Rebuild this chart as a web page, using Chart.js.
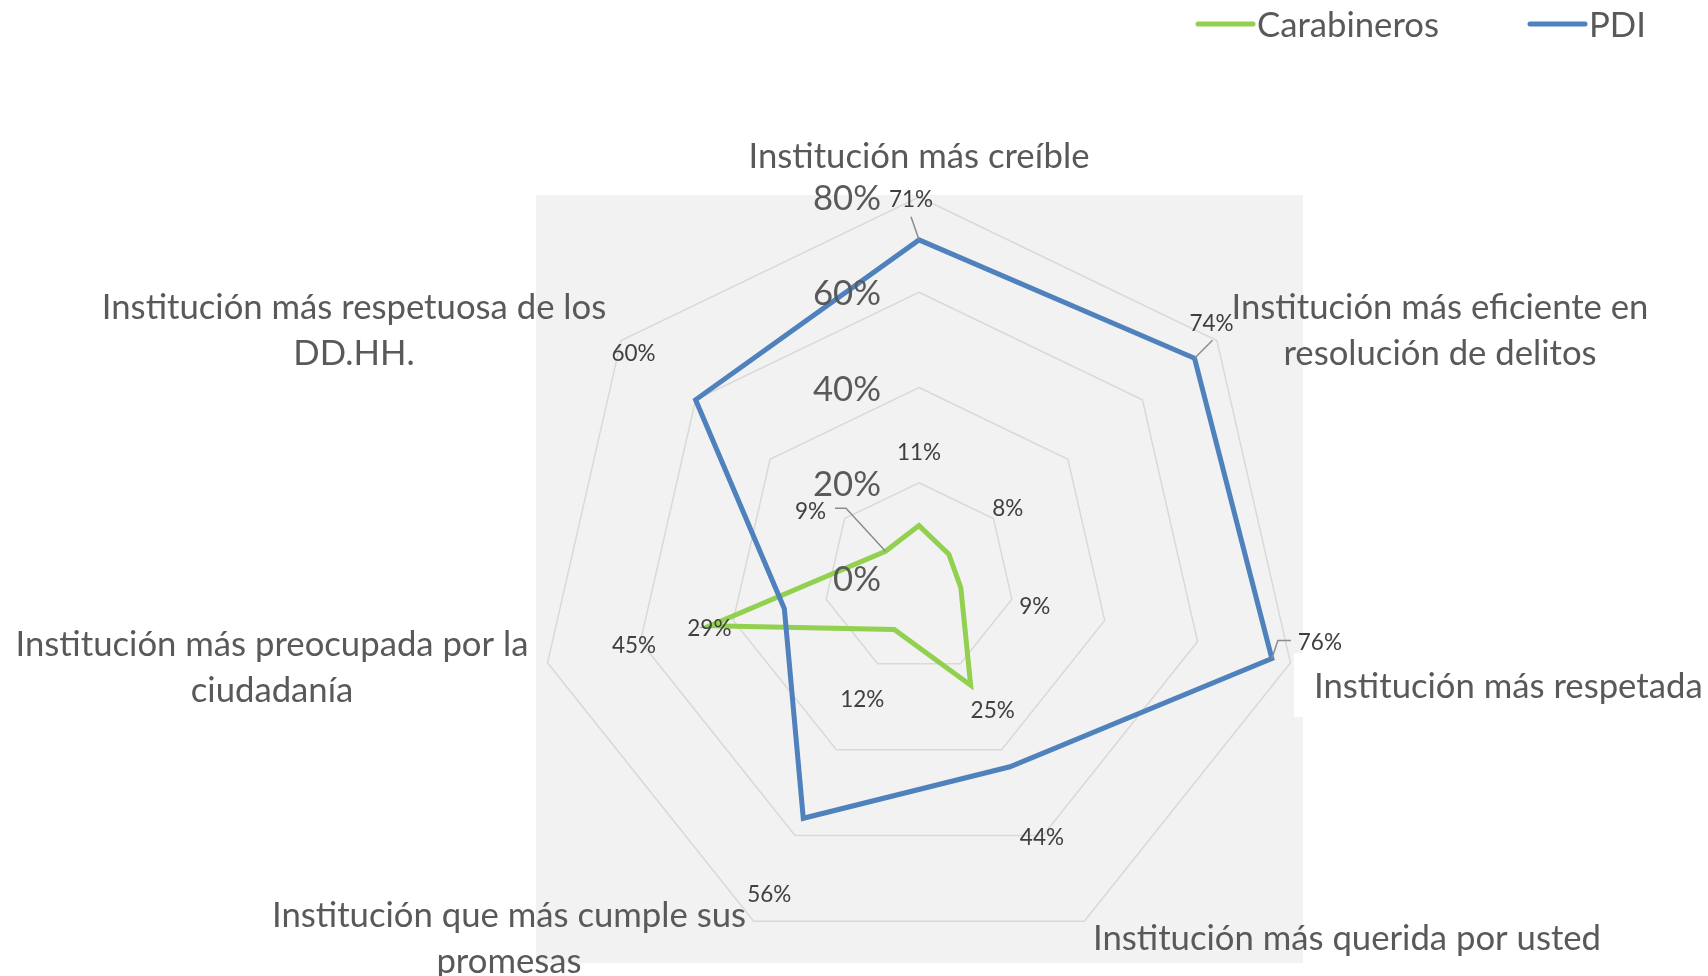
<!DOCTYPE html>
<html>
<head>
<meta charset="utf-8">
<script src="https://cdn.jsdelivr.net/npm/chart.js@4.4.0/dist/chart.umd.min.js"></script>
<style>
  html, body { margin: 0; padding: 0; background: #fff; }
  #wrap { width: 1708px; height: 976px; }
</style>
</head>
<body>
<div id="wrap"><canvas id="radar" width="1708" height="976"></canvas></div>
<script>
// data
const categories = [
  ["Institución más creíble"],
  ["Institución más eficiente en", "resolución de delitos"],
  ["Institución más respetada"],
  ["Institución más querida por usted"],
  ["Institución que más cumple sus", "promesas"],
  ["Institución más preocupada por la", "ciudadanía"],
  ["Institución más respetuosa de los", "DD.HH."],
];
const seriesNames = ["Carabineros", "PDI"];
const carabineros = [11, 8, 9, 25, 12, 45, 9];
const pdi = [71, 74, 76, 44, 56, 29, 60];
const tickValues = [0, 20, 40, 60, 80];

const GREEN = "#92D050";
const BLUE = "#4F81BD";
const TEXT = "#595959";
const FAMILY = "Lato, 'Open Sans', sans-serif";
const NUDGE = 2; // Lato sits a bit higher than the original font

// pick font sizes so the text is as wide as the original
const probe = document.createElement("canvas").getContext("2d");
probe.font = "100px " + FAMILY;
const BIG = Math.round(100 * 505 / probe.measureText("Institución más respetuosa de los").width * 10) / 10;
const SMALL = Math.round(BIG * 24 / 37 * 10) / 10;

// where the category labels sit (center of each line, line gap 46)
const labelLayout = [
  { x: 919, y: 155, align: "center" },
  { x: 1440, y: 306, align: "center" },
  { x: 1314, y: 685, align: "left" },
  { x: 1347, y: 937, align: "center" },
  { x: 509, y: 914, align: "center" },
  { x: 272, y: 643, align: "center" },
  { x: 354, y: 306, align: "center" },
];

// data label offsets from their point, plus optional leader lines
const carabLabelOffsets = [[0, -74], [59, -46], [74, 18], [22, 24], [-32, 69], [-76, 19], [-75, -41]];
const pdiLabelOffsets = [[-8, -41], [17, -36], [48, -17], [32, 70], [-34, 75], [-75, 19], [-62, -47]];
const carabLeaders = { 6: [[-39.5, -43], [-50.5, -43]] };
const pdiLeaders = { 0: [[-8, -23]], 1: [[18, -18]], 2: [[6, -18], [19, -18]] };

const pct = (v) => v + "%";

const excelLook = {
  id: "excelLook",
  beforeDraw(chart) {
    const r = chart.scales.r;
    const ctx = chart.ctx;
    ctx.save();
    ctx.fillStyle = "#F2F2F2";
    ctx.fillRect(r.xCenter - 383, r.yCenter - 383, 767, 768);
    ctx.restore();
  },
  beforeDatasetsDraw(chart) {
    // white box behind "Institución más respetada"
    const ctx = chart.ctx;
    ctx.save();
    ctx.fillStyle = "#FFFFFF";
    ctx.fillRect(1294, 653, 414, 64);
    ctx.restore();
  },
  afterDatasetsDraw(chart) {
    const r = chart.scales.r;
    const ctx = chart.ctx;
    ctx.save();

    // leader lines
    ctx.strokeStyle = "#8C8C8C";
    ctx.lineWidth = 1.5;
    const leaders = (values, table) => {
      Object.keys(table).forEach((k) => {
        const i = Number(k);
        const p = r.getPointPositionForValue(i, values[i]);
        ctx.beginPath();
        ctx.moveTo(p.x, p.y);
        table[k].forEach((d) => ctx.lineTo(p.x + d[0], p.y + d[1]));
        ctx.stroke();
      });
    };
    leaders(carabineros, carabLeaders);
    leaders(pdi, pdiLeaders);

    // data labels
    ctx.fillStyle = "#404040";
    ctx.font = SMALL + "px " + FAMILY;
    ctx.textAlign = "center";
    ctx.textBaseline = "middle";
    const dataLabels = (values, offsets) => {
      values.forEach((v, i) => {
        const p = r.getPointPositionForValue(i, v);
        ctx.fillText(pct(v), p.x + offsets[i][0], p.y + offsets[i][1] + 1);
      });
    };
    dataLabels(carabineros, carabLabelOffsets);
    dataLabels(pdi, pdiLabelOffsets);

    // axis ticks, right aligned left of the vertical axis
    ctx.fillStyle = TEXT;
    ctx.font = BIG + "px " + FAMILY;
    ctx.textAlign = "right";
    tickValues.forEach((t) => {
      const p = r.getPointPositionForValue(0, t);
      ctx.fillText(pct(t), r.xCenter - 38, p.y + NUDGE);
    });

    // category labels
    categories.forEach((lines, i) => {
      const lay = labelLayout[i];
      ctx.textAlign = lay.align;
      lines.forEach((line, j) => ctx.fillText(line, lay.x, lay.y + j * 46 + NUDGE));
    });

    // legend
    const legendItems = [
      { name: seriesNames[0], color: GREEN, x: 1198 },
      { name: seriesNames[1], color: BLUE, x: 1530 },
    ];
    ctx.lineCap = "round";
    ctx.lineWidth = 5;
    ctx.textAlign = "left";
    legendItems.forEach((it) => {
      ctx.strokeStyle = it.color;
      ctx.beginPath();
      ctx.moveTo(it.x, 24);
      ctx.lineTo(it.x + 55, 24);
      ctx.stroke();
      ctx.fillText(it.name, it.x + 59, 24 + NUDGE);
    });

    ctx.restore();
  },
};

new Chart(document.getElementById("radar"), {
  type: "radar",
  data: {
    labels: categories,
    datasets: [
      {
        label: seriesNames[0],
        data: carabineros,
        borderColor: GREEN,
        backgroundColor: "transparent",
        borderWidth: 5,
        fill: false,
        order: 1,
      },
      {
        label: seriesNames[1],
        data: pdi,
        borderColor: BLUE,
        backgroundColor: "transparent",
        borderWidth: 5,
        fill: false,
        order: 0,
      },
    ],
  },
  options: {
    responsive: false,
    animation: false,
    layout: { padding: { left: 538, right: 408, top: 197, bottom: 17 } },
    elements: { point: { radius: 0, hoverRadius: 0 }, line: { tension: 0 } },
    plugins: { legend: { display: false }, tooltip: { enabled: false } },
    scales: {
      r: {
        min: 0,
        max: 80,
        ticks: { stepSize: 20, display: false },
        grid: { color: "#D9D9D9", lineWidth: 1.5 },
        angleLines: { display: false },
        pointLabels: { display: false },
      },
    },
  },
  plugins: [excelLook],
});
</script>
</body>
</html>
